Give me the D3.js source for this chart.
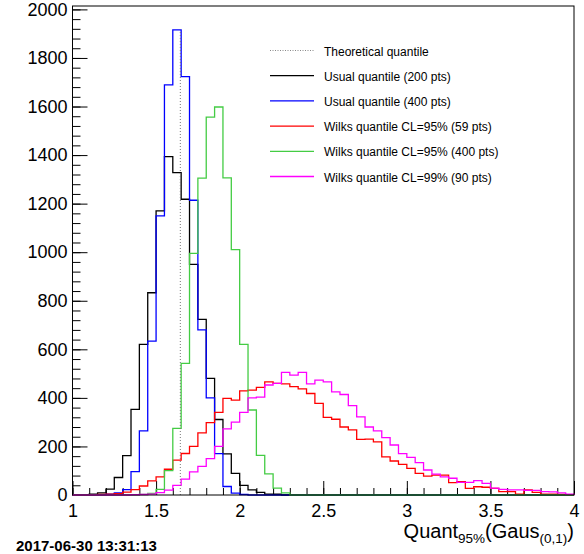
<!DOCTYPE html>
<html>
<head>
<meta charset="utf-8">
<script src="https://cdn.jsdelivr.net/npm/d3@7"></script>
<style>
  body { margin: 0; background: #fff; }
  svg text { font-family: "Liberation Sans", Arial, Helvetica, sans-serif; }
</style>
</head>
<body>
<div id="plot_div"></div>
<script>
// histogram contents, 60 bins of 0.05 between 1 and 4
var binLow = 1, binHigh = 4, nBins = 60;

var usual200 = [0,0,3,9,24,72,162,353,620,833, 1170,1394,1328,1218,950,723,480,311,169,89,
  40,21,11,4,3,0,0,0,0,0, 0,0,0,0,0,0,0,0,0,0, 0,0,0,0,0,0,0,0,0,0, 0,0,0,0,0,0,0,0,0,0];

var usual400 = [0,0,0,0,3,9,22,96,264,634, 1150,1689,1916,1723,1214,680,400,170,35,8,
  2,0,0,0,0,0,0,0,0,0, 0,0,0,0,0,0,0,0,0,0, 0,0,0,0,0,0,0,0,0,0, 0,0,0,0,0,0,0,0,0,0];

var wilks95_59 = [0,0,1,2,3,6,12,22,37,58, 75,106,144,171,200,256,298,340,398,391,
  429,432,443,466,460,458,446,437,418,377, 320,312,280,268,229,230,219,157,140,126,
  110,89,78,82,82,51,55,27,34,32, 27,14,14,4,21,11,4,4,2,1];

var wilks95_400 = [0,0,0,0,0,0,0,0,2,7, 23,100,274,542,995,1305,1556,1598,1306,1011,
  620,350,163,87,28,9,0,0,0,0, 0,0,0,0,0,0,0,0,0,0, 0,0,0,0,0,0,0,0,0,0, 0,0,0,0,0,0,0,0,0,0];

var wilks99_90 = [0,0,0,0,0,0,0,1,2,4, 10,20,40,65,95,118,150,200,272,300,
  340,400,403,453,460,505,494,505,458,473, 466,425,414,368,322,280,264,236,206,170,
  155,133,103,86,75,69,52,52,59,48, 28,23,21,21,19,19,14,13,9,4];

var theoQuantile = 1.645;

var legendLabels = ["Theoretical quantile", "Usual quantile (200 pts)", "Usual quantile (400 pts)",
  "Wilks quantile CL=95% (59 pts)", "Wilks quantile CL=95% (400 pts)", "Wilks quantile CL=99% (90 pts)"];
var xTicks = [1, 1.5, 2, 2.5, 3, 3.5, 4];
var yTicks = [0, 200, 400, 600, 800, 1000, 1200, 1400, 1600, 1800, 2000];
var dateStamp = "2017-06-30 13:31:13";

var series = [
  { values: usual200, color: "#000000" },
  { values: usual400, color: "#0000ff" },
  { values: wilks95_59, color: "#ff0000" },
  { values: wilks95_400, color: "#44cc44" },
  { values: wilks99_90, color: "#ff00ff" }
];

// frame of the pad
var W = 584, H = 554;
var frameL = 72.5, frameR = 574, frameT = 6, frameB = 495;

var svg = d3.select("#plot_div")
  .append("svg")
    .attr("width", W)
    .attr("height", H);

var x = d3.scaleLinear()
  .domain([binLow, binHigh])
  .range([frameL, frameR]);

var y = d3.scaleLinear()
  .domain([0, 2014])
  .range([frameB, frameT]);

var edges = d3.range(nBins).map(i => binLow + i * (binHigh - binLow) / nBins);

// minor ticks first, then major ones with labels
svg.append("g")
  .attr("transform", "translate(0," + frameB + ")")
  .call(d3.axisBottom(x).tickValues(d3.range(10, 41).map(d => d / 10)).tickSize(-7).tickFormat(""));

svg.append("g")
  .attr("transform", "translate(0," + frameB + ")")
  .call(d3.axisBottom(x).tickValues(xTicks).tickSize(-14).tickPadding(9).tickFormat(d3.format("~g")))
  .call(g => g.selectAll("text").style("font-size", "18px").attr("fill", "#000"));

svg.append("g")
  .attr("transform", "translate(" + frameL + ",0)")
  .call(d3.axisLeft(y).tickValues(d3.range(0, 2001, 40)).tickSize(-8).tickFormat(""));

svg.append("g")
  .attr("transform", "translate(" + frameL + ",0)")
  .call(d3.axisLeft(y).tickValues(yTicks).tickSize(-15).tickPadding(5).tickFormat(d3.format("d")))
  .call(g => g.selectAll("text").style("font-size", "18px").attr("fill", "#000"));

svg.selectAll(".domain").remove();

// histogram outlines
var line = d3.line()
  .x(d => x(d[0]))
  .y(d => y(d[1]))
  .curve(d3.curveStepAfter);

series.forEach(function(s) {
  var pts = [[binLow, 0]];
  s.values.forEach((v, i) => pts.push([edges[i], v]));
  pts.push([binHigh, s.values[nBins - 1]]);
  pts.push([binHigh, 0]);
  svg.append("path")
    .datum(pts)
    .attr("fill", "none")
    .attr("stroke", s.color)
    .attr("stroke-width", 1.3)
    .attr("d", line);
});

// theoretical quantile
svg.append("line")
  .attr("x1", x(theoQuantile)).attr("x2", x(theoQuantile))
  .attr("y1", y(0)).attr("y2", y(d3.max(usual400)))
  .attr("stroke", "#777")
  .attr("stroke-width", 1)
  .attr("stroke-dasharray", "1,2");

// frame
svg.append("rect")
  .attr("x", frameL).attr("y", frameT)
  .attr("width", frameR - frameL).attr("height", frameB - frameT)
  .attr("fill", "none")
  .attr("stroke", "#000")
  .attr("stroke-width", 1);

// legend
var legColors = ["#888"].concat(series.map(s => s.color));
legendLabels.forEach(function(lab, i) {
  var ly = 50.5 + i * 25.2;
  svg.append("line")
    .attr("x1", 270).attr("x2", 314)
    .attr("y1", ly).attr("y2", ly)
    .attr("stroke", legColors[i])
    .attr("stroke-width", i == 0 ? 1 : 1.3)
    .attr("stroke-dasharray", i == 0 ? "1,1.5" : null);
  svg.append("text")
    .attr("x", 324).attr("y", ly + 5)
    .style("font-size", "12px")
    .text(lab);
});

// axis title
var title = svg.append("text")
  .attr("x", frameR).attr("y", 538)
  .attr("text-anchor", "end")
  .style("font-size", "20px");
title.append("tspan").text("Quant");
title.append("tspan").attr("dy", 5).style("font-size", "13.5px").text("95%");
title.append("tspan").attr("dy", -5).text("(Gaus");
title.append("tspan").attr("dy", 5).style("font-size", "13.5px").text("(0,1)");
title.append("tspan").attr("dy", -5).text(")");

svg.append("text")
  .attr("x", 16).attr("y", 551)
  .style("font-size", "15px")
  .style("font-weight", "bold")
  .text(dateStamp);
</script>
</body>
</html>
